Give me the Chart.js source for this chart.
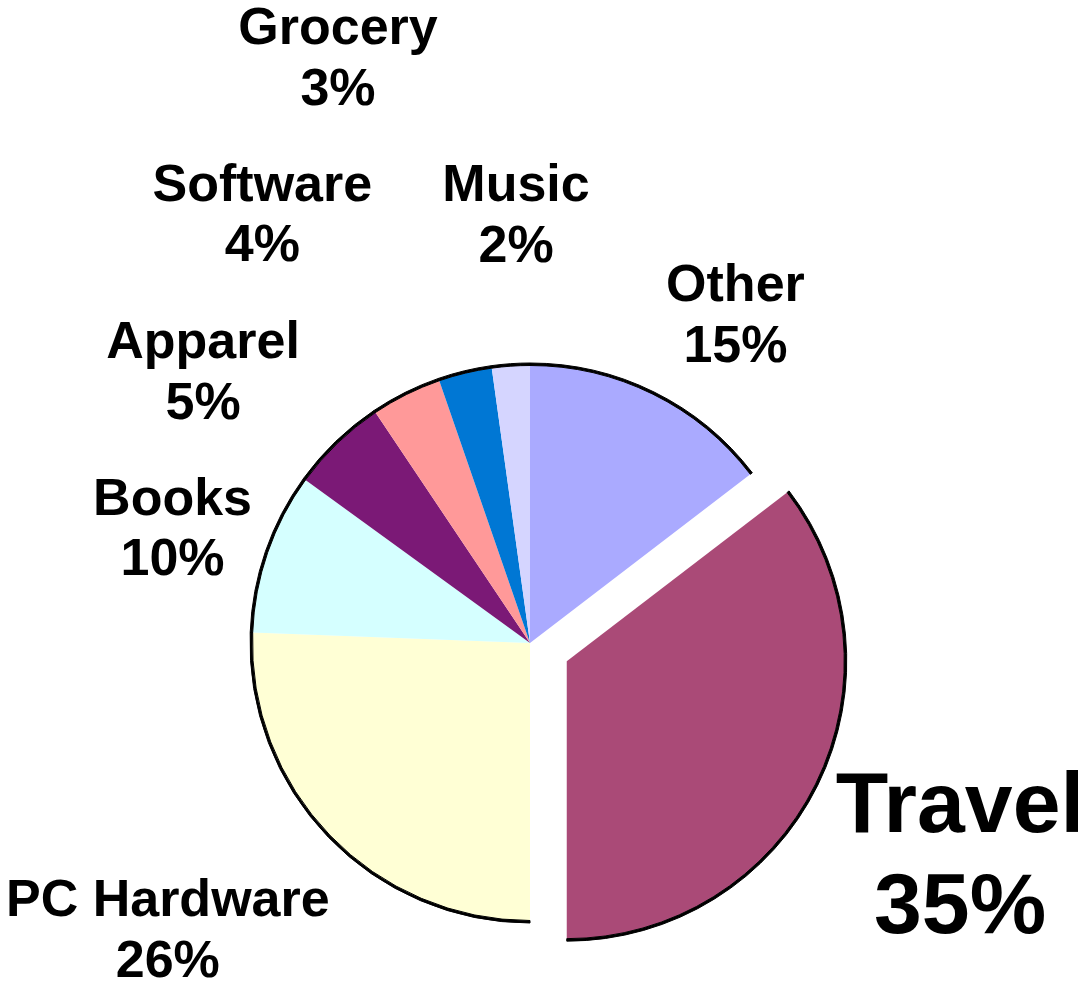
<!DOCTYPE html>
<html>
<head>
<meta charset="utf-8">
<script src="https://cdn.jsdelivr.net/npm/chart.js@4.4.0/dist/chart.umd.min.js"></script>
<style>
  html, body { margin: 0; padding: 0; background: #fff; }
  #wrap { width: 1078px; height: 983px; position: relative; }
</style>
</head>
<body>
<div id="wrap"><canvas id="pie"></canvas></div>
<script>
// --- datos del gráfico ---
const categories = ["Other", "Travel", "PC Hardware", "Books", "Apparel", "Software", "Grocery", "Music"];
const shares = [14.6, 35.4, 25.6, 9.4, 5.6, 4.1, 3.1, 2.2];
const pctLabels = ["15%", "35%", "26%", "10%", "5%", "4%", "3%", "2%"];

// --- estilo ---
const sliceColors = ["#aaaaff", "#aa4a77", "#ffffd5", "#d5ffff", "#7b1976", "#ff9999", "#0077d4", "#d5d5ff"];
const explode = { "Travel": 41 };
// dist = px from pie centre, shift = degrees off the slice mid angle, size = font px
const labelPlace = {
    "Other":       { dist: 389, shift: 5.6,  size: 52 },
    "Travel":      { dist: 478, shift: -0.4, size: 86 },
    "PC Hardware": { dist: 461, shift: 5.7,  size: 52 },
    "Books":       { dist: 376, shift: -1.0, size: 52 },
    "Apparel":     { dist: 426, shift: -6.2, size: 52 },
    "Software":    { dist: 507, shift: -5.4, size: 52 },
    "Grocery":     { dist: 618, shift: -4.6, size: 52 },
    "Music":       { dist: 430, shift: 2.1,  size: 52 }
};
const FONT = '"Liberation Sans", Arial, Helvetica, sans-serif';

// empuja el arco hacia afuera sin agrandar su radio
const explodePlugin = {
    id: 'explodeSlices',
    beforeDatasetsDraw(chart) {
        chart.data.datasets.forEach((ds, di) => {
            chart.getDatasetMeta(di).data.forEach((arc, i) => {
                if (arc._patched) return;
                const baseDraw = arc.draw;
                arc.draw = function(ctx, area) {
                    const d = explode[categories[i]] || 0;
                    const mid = (this.startAngle + this.endAngle) / 2;
                    ctx.save();
                    ctx.translate(Math.cos(mid) * d, Math.sin(mid) * d);
                    baseDraw.call(this, ctx, area);
                    ctx.restore();
                };
                arc._patched = true;
            });
        });
    }
};

const labelPlugin = {
    id: 'sliceLabels',
    afterDatasetsDraw(chart) {
        const ctx = chart.ctx;
        chart.getDatasetMeta(1).data.forEach((arc, i) => {
            const p = labelPlace[categories[i]];
            const ang = (arc.startAngle + arc.endAngle) / 2 + p.shift * Math.PI / 180;
            const cx = arc.x + Math.cos(ang) * p.dist;
            const cy = arc.y + Math.sin(ang) * p.dist;
            const gap = p.size * 1.17, cap = p.size * 0.716;
            ctx.save();
            ctx.font = `bold ${p.size}px ${FONT}`;
            ctx.fillStyle = '#000';
            ctx.textAlign = 'center';
            ctx.textBaseline = 'alphabetic';
            ctx.fillText(categories[i], cx, cy - gap / 2 + cap / 2);
            ctx.fillText(pctLabels[i], cx, cy + gap / 2 + cap / 2);
            ctx.restore();
        });
    }
};

new Chart(document.getElementById('pie'), {
    type: 'pie',
    data: {
        labels: categories,
        datasets: [
            // anillo negro exterior (contorno)
            { data: shares, backgroundColor: '#000', borderColor: '#000', borderWidth: 1, weight: 2.5 },
            { data: shares, backgroundColor: sliceColors, borderWidth: 0, weight: 277.5 }
        ]
    },
    options: {
        responsive: true,
        maintainAspectRatio: false,
        animation: false,
        events: [],
        radius: 280,
        layout: { padding: { left: 0, right: 18, top: 303, bottom: 0 } },
        plugins: { legend: { display: false }, tooltip: { enabled: false } }
    },
    plugins: [explodePlugin, labelPlugin]
});
</script>
</body>
</html>
